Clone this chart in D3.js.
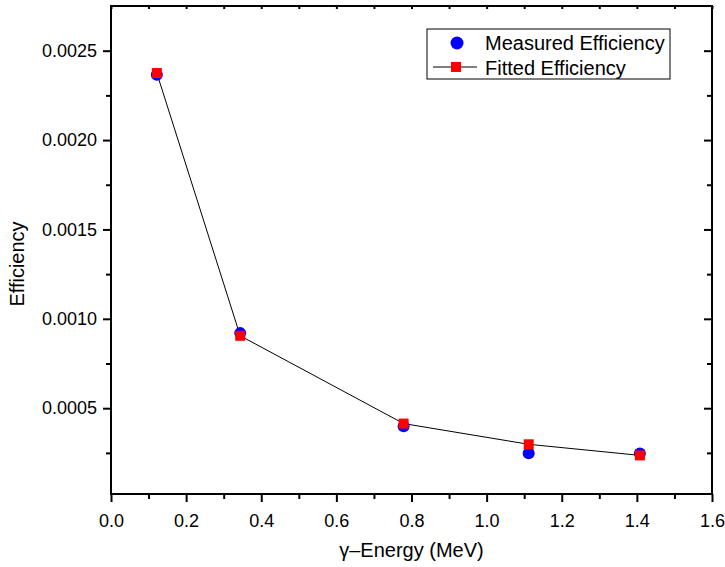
<!DOCTYPE html>
<html>
<head>
<meta charset="utf-8">
<script src="https://cdn.jsdelivr.net/npm/d3@7"></script>
<style>
  body { margin: 0; background: #fff; }
  text { font-family: "Liberation Sans", Arial, sans-serif; }
</style>
</head>
<body>
<svg id="vis" width="725" height="567"></svg>
<script>
// data
const energy = [0.122, 0.344, 0.779, 1.112, 1.408];          // MeV
const measured = [0.002366, 0.00092, 0.000399, 0.000248, 0.000246];
const fitted = [0.002375, 0.000905, 0.000414, 0.000298, 0.000236];

const xMajor = [0.0, 0.2, 0.4, 0.6, 0.8, 1.0, 1.2, 1.4, 1.6];
const xMinor = [0.1, 0.3, 0.5, 0.7, 0.9, 1.1, 1.3, 1.5];
const yMajor = [0.0005, 0.0010, 0.0015, 0.0020, 0.0025];
const yMinor = [0.00025, 0.00075, 0.00125, 0.00175, 0.00225];

const legendItems = ["Measured Efficiency", "Fitted Efficiency"];

const svg = d3.select("#vis");
const margin = { top: 6, right: 13, bottom: 73, left: 111 };
const W = +svg.attr("width"), H = +svg.attr("height");
const w = W - margin.left - margin.right;
const h = H - margin.top - margin.bottom;

const x = d3.scaleLinear().domain([0, 1.6]).range([0, w]);
const y = d3.scaleLinear().domain([0.00002, 0.00275]).range([h, 0]);

const g = svg.append("g").attr("transform", `translate(${margin.left},${margin.top})`);

function styleAxis(sel) {
  sel.select(".domain").remove();
  sel.selectAll("line").attr("stroke", "#000").attr("stroke-width", 2);
  sel.selectAll("text").attr("font-size", "18px").attr("fill", "#000");
}

// bottom axis (outward)
g.append("g").attr("transform", `translate(0,${h})`)
  .call(d3.axisBottom(x).tickValues(xMinor).tickSize(5).tickFormat(""))
  .call(styleAxis);
g.append("g").attr("transform", `translate(0,${h})`)
  .call(d3.axisBottom(x).tickValues(xMajor).tickSize(8).tickPadding(12).tickFormat(d3.format(".1f")))
  .call(styleAxis);

// left axis (outward)
g.append("g")
  .call(d3.axisLeft(y).tickValues(yMinor).tickSize(5).tickFormat(""))
  .call(styleAxis);
g.append("g")
  .call(d3.axisLeft(y).tickValues(yMajor).tickSize(8).tickPadding(6).tickFormat(d3.format(".4f")))
  .call(styleAxis);

// top axis (inward, small)
g.append("g")
  .call(d3.axisTop(x).tickValues(xMajor.concat(xMinor)).tickSize(-3).tickFormat(""))
  .call(styleAxis);

// right axis (inward)
g.append("g").attr("transform", `translate(${w},0)`)
  .call(d3.axisRight(y).tickValues(yMinor).tickSize(-5).tickFormat(""))
  .call(styleAxis);
g.append("g").attr("transform", `translate(${w},0)`)
  .call(d3.axisRight(y).tickValues(yMajor).tickSize(-8).tickFormat(""))
  .call(styleAxis);

// frame
g.append("rect")
  .attr("width", w).attr("height", h)
  .attr("fill", "none").attr("stroke", "#000").attr("stroke-width", 2);

// axis titles
svg.append("text")
  .attr("x", margin.left + w / 2).attr("y", 557)
  .attr("text-anchor", "middle").attr("font-size", "20px")
  .text("γ–Energy (MeV)");
svg.append("text")
  .attr("transform", `translate(24,${margin.top + h / 2 + 14}) rotate(-90)`)
  .attr("text-anchor", "middle").attr("font-size", "20px")
  .text("Efficiency");

// fitted line
const line = d3.line().x((d, i) => x(energy[i])).y(d => y(d));
g.append("path").datum(fitted)
  .attr("d", line)
  .attr("fill", "none").attr("stroke", "#000").attr("stroke-width", 1);

// measured circles
g.selectAll("circle.meas").data(measured).join("circle")
  .attr("class", "meas")
  .attr("cx", (d, i) => x(energy[i])).attr("cy", d => y(d))
  .attr("r", 6).attr("fill", "#0000ff");

// fitted squares
const sq = 10;
g.selectAll("rect.fit").data(fitted).join("rect")
  .attr("class", "fit")
  .attr("x", (d, i) => x(energy[i]) - sq / 2).attr("y", d => y(d) - sq / 2)
  .attr("width", sq).attr("height", sq).attr("fill", "#ff0000");

// legend
const lg = svg.append("g").attr("transform", "translate(427,29)");
lg.append("rect").attr("width", 243).attr("height", 50)
  .attr("fill", "#fff").attr("stroke", "#000").attr("stroke-width", 1);
lg.append("circle").attr("cx", 30).attr("cy", 14).attr("r", 6.5).attr("fill", "#0000ff");
lg.append("line").attr("x1", 6).attr("x2", 50).attr("y1", 38).attr("y2", 38)
  .attr("stroke", "#000").attr("stroke-width", 1);
lg.append("rect").attr("x", 29 - sq / 2).attr("y", 38 - sq / 2)
  .attr("width", sq).attr("height", sq).attr("fill", "#ff0000");
lg.selectAll("text.lab").data(legendItems).join("text")
  .attr("class", "lab")
  .attr("x", 58).attr("y", (d, i) => 21 + i * 25)
  .attr("font-size", "20px")
  .text(d => d);
</script>
</body>
</html>
